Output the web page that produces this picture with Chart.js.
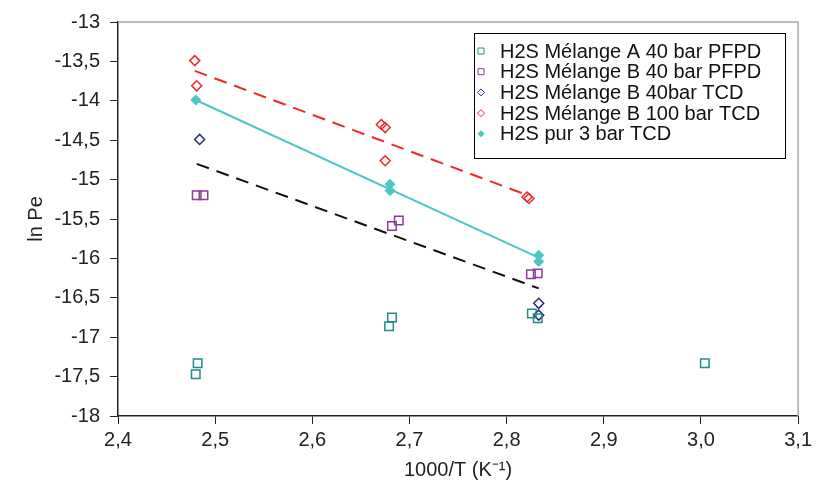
<!DOCTYPE html>
<html>
<head>
<meta charset="utf-8">
<script src="https://cdn.jsdelivr.net/npm/chart.js@4/dist/chart.umd.min.js"></script>
<style>
  body { margin: 0; background: #fff; }
  #c { display: block; }
</style>
</head>
<body>
<canvas id="c" width="816" height="490"></canvas>
<script>
// Données
const seriesLabels = [
    'H2S Mélange A 40 bar PFPD',
    'H2S Mélange B 40 bar PFPD',
    'H2S Mélange B 40bar TCD',
    'H2S Mélange B 100 bar TCD',
    'H2S pur 3 bar TCD'
];

const xMelA = [2.482, 2.480, 2.682, 2.679, 2.826, 2.832, 3.004];
const yMelA = [-17.33, -17.47, -16.75, -16.86, -16.70, -16.76, -17.33];

const xMelBPfpd = [2.481, 2.488, 2.682, 2.689, 2.825, 2.832];
const yMelBPfpd = [-15.20, -15.20, -15.59, -15.52, -16.20, -16.19];

const xMelBTcd = [2.484, 2.833, 2.833];
const yMelBTcd = [-14.49, -16.57, -16.72];

const xMelB100 = [2.479, 2.481, 2.671, 2.675, 2.675, 2.821, 2.823];
const yMelB100 = [-13.49, -13.81, -14.30, -14.34, -14.76, -15.22, -15.24];

const xPur = [2.480, 2.680, 2.680, 2.833, 2.833];
const yPur = [-13.99, -15.06, -15.14, -15.96, -16.04];

// droites de tendance
const xTrendRed = [2.479, 2.822];
const yTrendRed = [-13.62, -15.20];
const xTrendTeal = [2.480, 2.833];
const yTrendTeal = [-13.99, -15.99];
const xTrendBlack = [2.481, 2.833];
const yTrendBlack = [-14.80, -16.38];

const xTicks = [2.4, 2.5, 2.6, 2.7, 2.8, 2.9, 3.0, 3.1];

const colA = '#1f8c8c';
const colBPfpd = '#8c3c9c';
const colBTcd = '#2a2a86';
const colRed = '#f02828';
const colTeal = '#4cc6c6';

const toPts = (xs, ys) => xs.map((x, i) => ({ x: x, y: ys[i] }));
const comma = v => String(v).replace('.', ',');

const font = { family: "'Liberation Sans', Arial, sans-serif", size: 20 };

const datasets = [
    { label: seriesLabels[0], data: toPts(xMelA, yMelA), pointStyle: 'rect', pointRadius: 6,
      borderColor: colA, backgroundColor: 'transparent', pointBorderWidth: 1.5, showLine: false, mk: 'sq' },
    { label: seriesLabels[1], data: toPts(xMelBPfpd, yMelBPfpd), pointStyle: 'rect', pointRadius: 6,
      borderColor: colBPfpd, backgroundColor: 'transparent', pointBorderWidth: 1.5, showLine: false, mk: 'sq' },
    { label: seriesLabels[2], data: toPts(xMelBTcd, yMelBTcd), pointStyle: 'rectRot', pointRadius: 5,
      borderColor: colBTcd, backgroundColor: 'transparent', pointBorderWidth: 1.5, showLine: false, mk: 'dm' },
    { label: seriesLabels[3], data: toPts(xMelB100, yMelB100), pointStyle: 'rectRot', pointRadius: 5,
      borderColor: colRed, backgroundColor: 'transparent', pointBorderWidth: 1.5, showLine: false, mk: 'dm' },
    { label: seriesLabels[4], data: toPts(xPur, yPur), pointStyle: 'rectRot', pointRadius: 5,
      borderColor: colTeal, backgroundColor: colTeal, pointBorderWidth: 1, showLine: false, mk: 'fd' },
    { label: '', data: toPts(xTrendRed, yTrendRed), showLine: true, pointRadius: 0,
      borderColor: colRed, borderWidth: 2, borderDash: [13, 8] },
    { label: '', data: toPts(xTrendTeal, yTrendTeal), showLine: true, pointRadius: 0,
      borderColor: colTeal, borderWidth: 2 },
    { label: '', data: toPts(xTrendBlack, yTrendBlack), showLine: true, pointRadius: 0,
      borderColor: '#111', borderWidth: 2, borderDash: [13, 8] }
];

// cadre gris (haut et droite) + légende dans la zone du graphique
const framePlugin = {
    id: 'frame',
    afterDraw(chart) {
        const ctx = chart.ctx;
        const a = chart.chartArea;
        ctx.save();
        ctx.strokeStyle = '#a8a8a8';
        ctx.lineWidth = 1.5;
        ctx.beginPath();
        ctx.moveTo(a.left, a.top);
        ctx.lineTo(a.right, a.top);
        ctx.lineTo(a.right, a.bottom);
        ctx.stroke();

        // légende
        const bx = 474, by = 33, bw = 311, bh = 125;
        ctx.fillStyle = '#fff';
        ctx.fillRect(bx, by, bw, bh);
        ctx.strokeStyle = '#000';
        ctx.lineWidth = 1;
        ctx.strokeRect(bx + 0.5, by + 0.5, bw, bh);
        ctx.font = font.size + 'px ' + font.family;
        ctx.textBaseline = 'middle';
        const items = chart.data.datasets.filter(d => d.label);
        items.forEach((d, i) => {
            const cy = by + 18 + i * 20.7;
            const mx = 481;
            ctx.strokeStyle = d.borderColor;
            ctx.fillStyle = d.borderColor;
            ctx.lineWidth = 1;
            ctx.beginPath();
            if (d.mk === 'sq') {
                ctx.rect(mx - 3, cy - 3, 6, 6);
                ctx.stroke();
            } else {
                ctx.moveTo(mx, cy - 3.5);
                ctx.lineTo(mx + 3.5, cy);
                ctx.lineTo(mx, cy + 3.5);
                ctx.lineTo(mx - 3.5, cy);
                ctx.closePath();
                if (d.mk === 'fd') ctx.fill(); else ctx.stroke();
            }
            ctx.fillStyle = '#111';
            ctx.fillText(d.label, 500, cy + 1);
        });
        ctx.restore();
    }
};

new Chart(document.getElementById('c'), {
    type: 'scatter',
    data: { datasets: datasets },
    options: {
        responsive: false,
        animation: false,
        layout: { padding: { left: 22, right: 17, top: 21, bottom: 8 } },
        plugins: {
            legend: { display: false },
            tooltip: { enabled: false }
        },
        scales: {
            x: {
                type: 'linear',
                min: 2.4,
                max: 3.1,
                afterBuildTicks: scale => { scale.ticks = xTicks.map(v => ({ value: v })); },
                afterFit: scale => { scale.height = 66; },
                ticks: {
                    color: '#222',
                    font: font,
                    padding: 4,
                    callback: v => v.toFixed(1).replace('.', ',')
                },
                grid: { drawOnChartArea: false, tickLength: 8, color: '#222' },
                border: { color: '#222', width: 1.5 },
                title: {
                    display: true,
                    text: '1000/T (K⁻¹)',
                    color: '#222',
                    font: font,
                    padding: { top: 0, bottom: 0 }
                }
            },
            y: {
                type: 'linear',
                min: -18,
                max: -13,
                afterFit: scale => { scale.width = 96; },
                ticks: {
                    stepSize: 0.5,
                    color: '#222',
                    font: font,
                    padding: 10,
                    callback: v => comma(v)
                },
                grid: { drawOnChartArea: false, tickLength: 8, color: '#222' },
                border: { color: '#222', width: 1.5 },
                title: {
                    display: true,
                    text: 'ln Pe',
                    color: '#222',
                    font: font,
                    padding: { top: 2, bottom: 0 }
                }
            }
        }
    },
    plugins: [framePlugin]
});
</script>
</body>
</html>
